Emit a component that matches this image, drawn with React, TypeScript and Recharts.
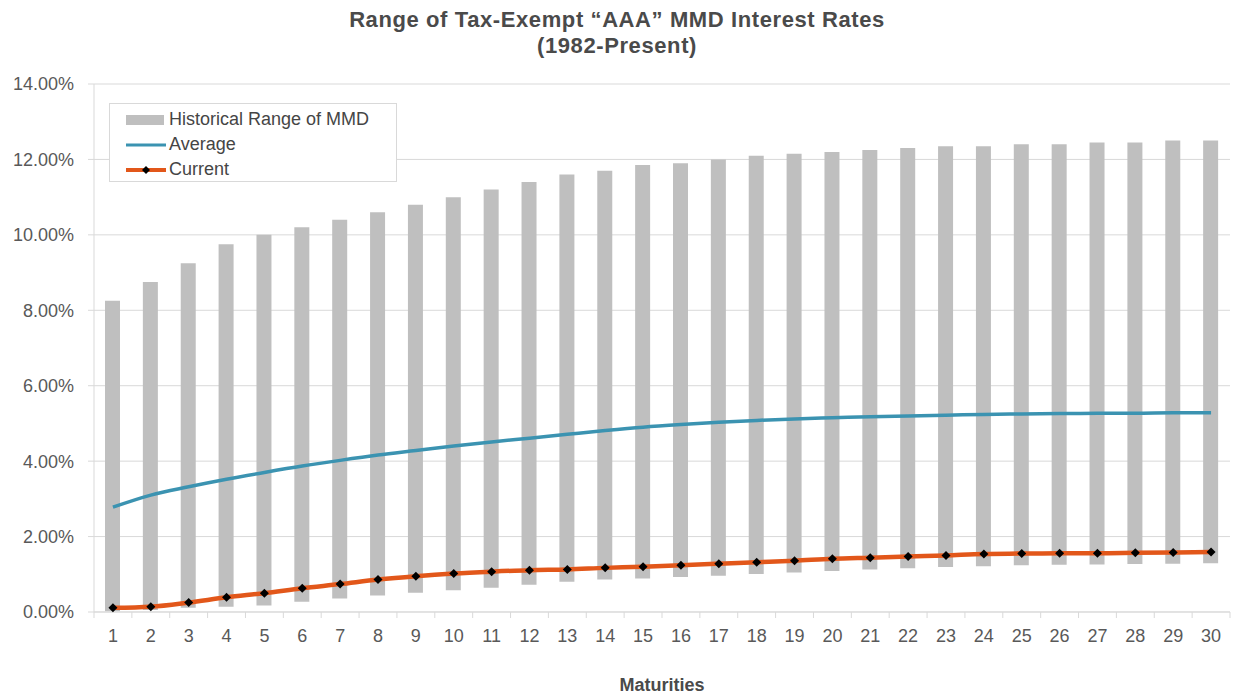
import {
  ComposedChart,
  Bar,
  Line,
  XAxis,
  YAxis,
  CartesianGrid,
  Label,
} from "recharts";

// maturities in years
const maturities = [
  1, 2, 3, 4, 5, 6, 7, 8, 9, 10, 11, 12, 13, 14, 15, 16, 17, 18, 19, 20, 21,
  22, 23, 24, 25, 26, 27, 28, 29, 30,
];

// historical range of MMD (%), low and high
const rangeLow = [
  0.02, 0.05, 0.11, 0.14, 0.17, 0.27, 0.36, 0.44, 0.51, 0.58, 0.64, 0.72, 0.8,
  0.86, 0.89, 0.93, 0.96, 1.01, 1.05, 1.09, 1.13, 1.16, 1.19, 1.21, 1.24, 1.25,
  1.26, 1.27, 1.28, 1.29,
];
const rangeHigh = [
  8.25, 8.75, 9.25, 9.75, 10.0, 10.2, 10.4, 10.6, 10.8, 11.0, 11.2, 11.4, 11.6,
  11.7, 11.85, 11.9, 12.0, 12.1, 12.15, 12.2, 12.25, 12.3, 12.35, 12.35, 12.4,
  12.4, 12.45, 12.45, 12.5, 12.5,
];

const average = [
  2.78, 3.1, 3.32, 3.52, 3.7, 3.87, 4.02, 4.16, 4.28, 4.4, 4.51, 4.61, 4.71,
  4.81, 4.9, 4.97, 5.03, 5.08, 5.12, 5.15, 5.18, 5.2, 5.22, 5.24, 5.25, 5.26,
  5.27, 5.27, 5.28, 5.28,
];
const current = [
  0.11, 0.14, 0.25, 0.39, 0.5, 0.63, 0.74, 0.86, 0.95, 1.02, 1.07, 1.11, 1.13,
  1.17, 1.2, 1.24, 1.28, 1.32, 1.36, 1.41, 1.44, 1.47, 1.5, 1.54, 1.55, 1.56,
  1.56, 1.57, 1.58, 1.59,
];

const yTicks = [0, 2, 4, 6, 8, 10, 12, 14];

const data = maturities.map((m, i) => ({
  m,
  range: [rangeLow[i], rangeHigh[i]],
  average: average[i],
  current: current[i],
}));

const FONT = '"Liberation Sans", Arial, Helvetica, sans-serif';
const TEXT = "#595959";
const GRID = "#d9d9d9";
const BAR = "#bfbfbf";
const BLUE = "#3b93b1";
const ORANGE = "#e2571a";

const TICK_SIZE = 6;
const TICK_MARGIN = 2;

// category labels centred, tick marks on the band boundaries
const MaturityTick = (props: any) => {
  const { x, y, payload, index, visibleTicksCount } = props;
  const axisY = y - TICK_SIZE - TICK_MARGIN;
  const half = payload.offset || 0;
  return (
    <g>
      <line
        x1={x - half}
        x2={x - half}
        y1={axisY}
        y2={axisY + TICK_SIZE}
        stroke={GRID}
      />
      {index === visibleTicksCount - 1 && (
        <line
          x1={x + half}
          x2={x + half}
          y1={axisY}
          y2={axisY + TICK_SIZE}
          stroke={GRID}
        />
      )}
      <text
        x={x}
        y={y}
        dy={22}
        textAnchor="middle"
        fill={TEXT}
        fontSize={18}
        fontFamily={FONT}
      >
        {payload.value}
      </text>
    </g>
  );
};

const Diamond = (props: any) => {
  const { cx, cy } = props;
  if (cx == null || cy == null) return null;
  const r = 4.5;
  return (
    <path
      d={`M${cx},${cy - r}L${cx + r},${cy}L${cx},${cy + r}L${cx - r},${cy}Z`}
      fill="#000"
    />
  );
};

const legendItems = [
  { name: "Historical Range of MMD", kind: "bar" },
  { name: "Average", kind: "avg" },
  { name: "Current", kind: "cur" },
];

const LegendBox = () => (
  <div
    style={{
      position: "absolute",
      left: 109,
      top: 103,
      width: 286,
      height: 77,
      border: `1px solid ${GRID}`,
      background: "#fff",
      fontFamily: FONT,
      fontSize: 18,
      color: "#454545",
    }}
  >
    {legendItems.map((item, i) => (
      <div
        key={item.name}
        style={{
          position: "absolute",
          left: 16,
          top: 3 + i * 25,
          height: 25,
          display: "flex",
          alignItems: "center",
        }}
      >
        <svg width={40} height={12} style={{ marginRight: 3 }}>
          {item.kind === "bar" && (
            <rect x={0} y={1} width={38} height={10} fill={BAR} />
          )}
          {item.kind === "avg" && (
            <line x1={0} x2={40} y1={6} y2={6} stroke={BLUE} strokeWidth={3} />
          )}
          {item.kind === "cur" && (
            <>
              <line
                x1={0}
                x2={40}
                y1={6}
                y2={6}
                stroke={ORANGE}
                strokeWidth={4}
              />
              <path d="M20,2L24,6L20,10L16,6Z" fill="#000" />
            </>
          )}
        </svg>
        <span>{item.name}</span>
      </div>
    ))}
  </div>
);

export default function App() {
  return (
    <div
      style={{
        position: "absolute",
        left: 0,
        top: 0,
        width: 1234,
        height: 696,
        background: "#fff",
      }}
    >
      <div
        style={{
          position: "absolute",
          left: 0,
          top: 7,
          width: 1234,
          textAlign: "center",
          fontFamily: FONT,
          fontWeight: "bold",
          fontSize: 22,
          letterSpacing: 0.6,
          lineHeight: "26px",
          color: "#4a4a4a",
        }}
      >
        <div>Range of Tax-Exempt “AAA” MMD Interest Rates</div>
        <div>(1982-Present)</div>
      </div>
      <ComposedChart
        width={1234}
        height={696}
        data={data}
        margin={{ top: 84, right: 4, bottom: 0, left: 0 }}
      >
        <CartesianGrid vertical={false} stroke={GRID} />
        <XAxis
          dataKey="m"
          height={84}
          axisLine={{ stroke: GRID }}
          tickLine={false}
          tickSize={TICK_SIZE}
          tickMargin={TICK_MARGIN}
          interval={0}
          tick={<MaturityTick />}
        >
          <Label
            value="Maturities"
            position="insideBottom"
            offset={5}
            fill="#4a4a4a"
            fontSize={18}
            fontWeight="bold"
            fontFamily={FONT}
          />
        </XAxis>
        <YAxis
          width={94}
          domain={[0, 14]}
          ticks={yTicks}
          interval={0}
          axisLine={{ stroke: GRID }}
          tickLine={{ stroke: GRID }}
          tickSize={6}
          tickMargin={14}
          tickFormatter={(v: number) => `${v.toFixed(2)}%`}
          tick={{ fill: TEXT, fontSize: 18, fontFamily: FONT }}
        />
        <Bar
          dataKey="range"
          name="Historical Range of MMD"
          fill={BAR}
          barSize={15}
          isAnimationActive={false}
        />
        <Line
          dataKey="average"
          name="Average"
          type="monotone"
          stroke={BLUE}
          strokeWidth={3.5}
          dot={false}
          isAnimationActive={false}
        />
        <Line
          dataKey="current"
          name="Current"
          type="monotone"
          stroke={ORANGE}
          strokeWidth={4.5}
          dot={<Diamond />}
          activeDot={false}
          isAnimationActive={false}
        />
      </ComposedChart>
      <LegendBox />
    </div>
  );
}
